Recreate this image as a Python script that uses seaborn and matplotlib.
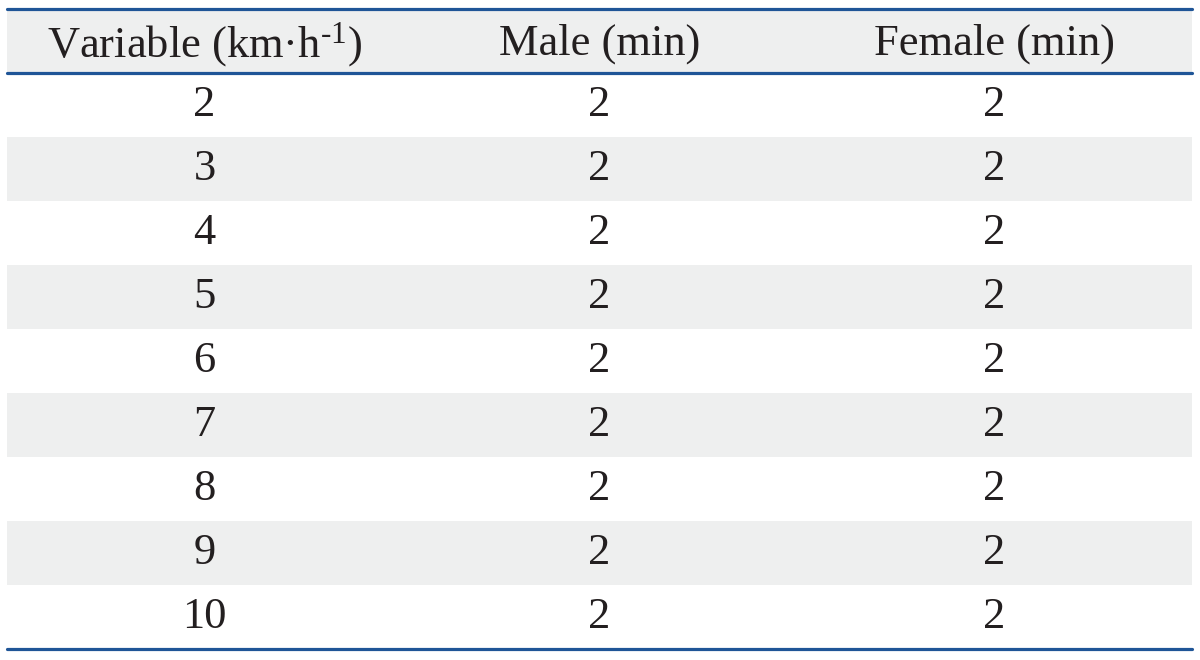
import numpy as np
import pandas as pd
import matplotlib
matplotlib.use('Agg')
import matplotlib.pyplot as plt
import seaborn as sns
from matplotlib.colors import ListedColormap

# Table contents
headers = ['Variable (km·h$^{\\text{-1}}$)', 'Male (min)', 'Female (min)']
speed = ['2', '3', '4', '5', '6', '7', '8', '9', '10']
male_min = [2, 2, 2, 2, 2, 2, 2, 2, 2]
female_min = [2, 2, 2, 2, 2, 2, 2, 2, 2]

sns.set_theme(style='white')
plt.rcParams['font.family'] = ['Liberation Serif', 'DejaVu Serif']
plt.rcParams['mathtext.fontset'] = 'custom'
plt.rcParams['mathtext.rm'] = 'Liberation Serif'
plt.rcParams['mathtext.it'] = 'Liberation Serif:italic'

df = pd.DataFrame({'speed': speed, 'male': male_min, 'female': female_min})

# text grid: header row + data rows
labels = np.vstack([headers, df.astype(str).values])
# shading: header grey, then alternating white / grey rows
n_rows = labels.shape[0]
shade = np.array([[1 if (i == 0 or i % 2 == 0) else 0] * 3 for i in range(n_rows)])

fig = plt.figure(figsize=(12, 6.6), dpi=100)
ax = fig.add_axes([7 / 1200, 1 - 649 / 660, 1185 / 1200, 640 / 660])

sns.heatmap(shade, ax=ax, cmap=ListedColormap(['#ffffff', '#eeefef']),
            cbar=False, annot=labels, fmt='', vmin=0, vmax=1,
            annot_kws={'fontsize': 32, 'color': '#231f20'},
            xticklabels=False, yticklabels=False)

# header text sits a little lower in the original
for t in ax.texts[:3]:
    x, y = t.get_position()
    t.set_position((x, y + 0.05))

line_color = '#1f5597'
for y in [0, 1, n_rows]:
    ax.axhline(y, color=line_color, lw=2.3, clip_on=False)

ax.set_xlabel('')
ax.set_ylabel('')
for s in ax.spines.values():
    s.set_visible(False)

fig.savefig('out.png', dpi=100)
